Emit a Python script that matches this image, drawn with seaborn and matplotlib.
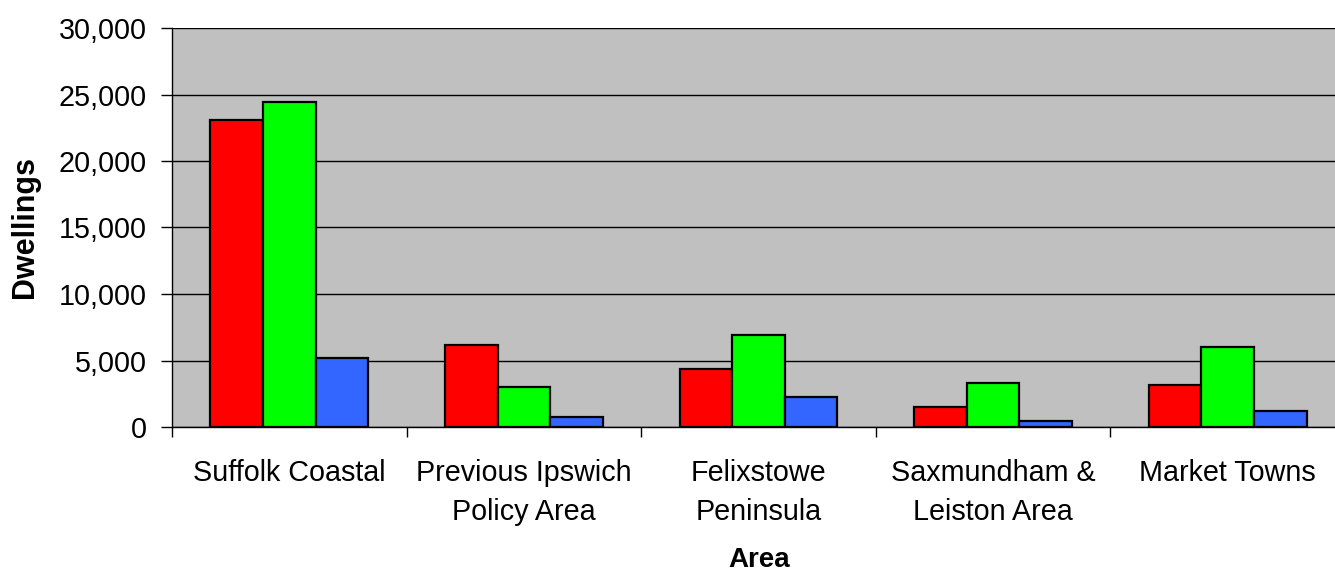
import matplotlib
matplotlib.use("Agg")
import matplotlib.pyplot as plt
from matplotlib.ticker import FuncFormatter, FixedLocator, NullFormatter
import seaborn as sns
import pandas as pd

# Dwellings by area, three series per area
areas = ["Suffolk Coastal", "Previous Ipswich\nPolicy Area", "Felixstowe\nPeninsula",
         "Saxmundham &\nLeiston Area", "Market Towns"]
series_names = ["Series 1", "Series 2", "Series 3"]
series_1 = [23060, 6190, 4370, 1520, 3160]
series_2 = [24400, 2980, 6950, 3330, 6040]
series_3 = [5210, 730, 2250, 450, 1210]
colors = ["#FF0000", "#00FF00", "#3366FF"]
y_ticks = [0, 5000, 10000, 15000, 20000, 25000, 30000]

rows = []
for name, vals in zip(series_names, [series_1, series_2, series_3]):
    for area, v in zip(areas, vals):
        rows.append({"Area": area, "Series": name, "Dwellings": v})
df = pd.DataFrame(rows)

sns.set_style("white")
plt.rcParams["font.family"] = ["Liberation Sans", "DejaVu Sans"]
plt.rcParams["text.color"] = "black"
plt.rcParams["axes.labelcolor"] = "black"
plt.rcParams["xtick.color"] = "black"
plt.rcParams["ytick.color"] = "black"

fig = plt.figure(figsize=(13.35, 5.73), dpi=100)
ax = fig.add_axes([172 / 1335, 1 - 427 / 573, (1345 - 172) / 1335, (427 - 28) / 573])
ax.set_facecolor("#C0C0C0")

sns.barplot(data=df, x="Area", y="Dwellings", hue="Series", order=areas,
            hue_order=series_names, palette=colors, width=0.673, gap=0,
            edgecolor="black", linewidth=1.6, saturation=1, legend=False, ax=ax)

ax.set_ylim(0, 30000)
ax.set_xlim(-0.5, len(areas) - 0.5)
ax.set_yticks(y_ticks)
ax.yaxis.set_major_formatter(FuncFormatter(lambda v, p: f"{int(v):,}"))
ax.yaxis.grid(True, color="black", linewidth=1.0)
ax.set_axisbelow(True)

# category boundary ticks below the axis
ax.xaxis.set_minor_locator(FixedLocator([i - 0.5 for i in range(len(areas) + 1)]))
ax.xaxis.set_minor_formatter(NullFormatter())
ax.tick_params(axis="x", which="major", length=0, pad=23, labelsize=20.7, labelcolor="black")
ax.tick_params(axis="x", which="minor", bottom=True, length=7.5, width=1, color="black",
               direction="out")
ax.tick_params(axis="y", which="major", left=True, length=8, width=1, color="black",
               direction="out", labelsize=20.7, pad=10, labelcolor="black")
for lbl in ax.get_xticklabels():
    lbl.set_linespacing(1.5)

for side in ["top", "right"]:
    ax.spines[side].set_visible(False)
for side in ["left", "bottom"]:
    ax.spines[side].set_color("black")
    ax.spines[side].set_linewidth(1.0)

ax.set_xlabel("Area", fontsize=20, fontweight="bold", va="baseline")
ax.xaxis.set_label_coords((759.5 - 172) / 1173, -(567 - 427) / 399)
ax.set_ylabel("Dwellings", fontsize=22, fontweight="bold", va="center")
ax.yaxis.set_label_coords((25.5 - 172) / 1173, (427 - 226.5) / 399)

fig.savefig("out.png", dpi=100)
